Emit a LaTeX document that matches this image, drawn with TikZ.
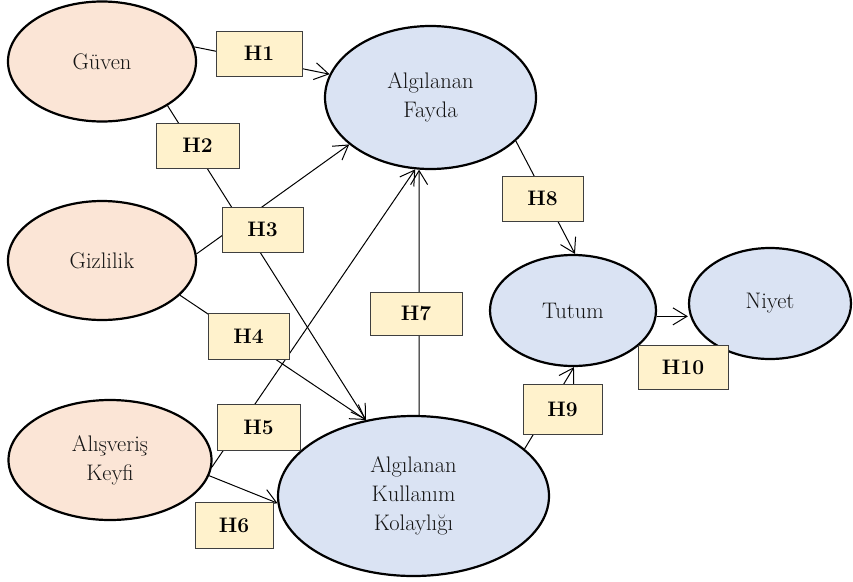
\documentclass[tikz,border=0pt]{standalone}
\usetikzlibrary{arrows.meta,shapes.geometric}
\definecolor{peach}{HTML}{FBE5D6}
\definecolor{lblue}{HTML}{DAE3F3}
\definecolor{boxy}{HTML}{FFF2CC}
\definecolor{boxline}{HTML}{3F3F3F}
\begin{document}
\begin{tikzpicture}[x=1pt,y=-1pt,
  ell/.style={ellipse, draw=black, line width=2.2pt, inner sep=0pt, align=center,
    font=\fontsize{22.5}{29}\selectfont, text=black!92},
  src/.style={ell, fill=peach},
  tgt/.style={ell, fill=lblue},
  hyp/.style={draw=boxline, line width=1pt, fill=boxy, inner sep=0pt,
    font=\fontsize{21}{24}\selectfont\bfseries},
  link/.style={line width=1pt, -{Straight Barb[length=14pt,width=17pt,line width=1pt]}}]
\useasboundingbox (0,0) rectangle (853,581);
% constructs
\node[src, minimum width=188, minimum height=120] (guven) at (102,61.5) {Güven};
\node[src, minimum width=188, minimum height=119] (gizlilik) at (102,260.5) {Gizlilik};
\node[src, minimum width=203, minimum height=120] (keyfi) at (110,460) {Alışveriş\\Keyfi};
\node[tgt, minimum width=211, minimum height=143] (fayda) at (430.5,97.5) {Algılanan\\Fayda};
\node[tgt, minimum width=271, minimum height=160] (akk) at (413.5,496) {Algılanan\\Kullanım\\Kolaylığı};
\node[tgt, minimum width=166, minimum height=111] (tutum) at (573,310.5) {Tutum};
\node[tgt, minimum width=162, minimum height=111] (niyet) at (770,303.5) {Niyet};
% paths
\draw[link] (guven.9) -- (fayda.167);
\draw[link] (guven.-34) -- (akk.122);
\draw[link] (gizlilik.4) -- (fayda.210);
\draw[link] (gizlilik.-24) -- (akk.122);
\draw[link] (keyfi.-4) -- (fayda.-102);
\draw[link] (keyfi.-9) -- (akk.183);
\draw[link] (akk.86) -- (fayda.-99);
\draw[link] (fayda.-27) -- (tutum.88);
\draw[link] (akk.23) -- (tutum.-89);
\draw[link] (tutum.-4) -- (tutum.-4 -| niyet.west);
% hypothesis labels
\node[hyp, minimum width=86, minimum height=45] (h1) at (259,53.5) {H1};
\node[hyp, minimum width=83, minimum height=45] (h2) at (197.5,145.5) {H2};
\node[hyp, minimum width=81, minimum height=45] (h3) at (262.5,229.5) {H3};
\node[hyp, minimum width=81, minimum height=46] (h4) at (248.5,336) {H4};
\node[hyp, minimum width=83, minimum height=46] (h5) at (258.5,427) {H5};
\node[hyp, minimum width=78, minimum height=46] (h6) at (234,525) {H6};
\node[hyp, minimum width=92, minimum height=43] (h7) at (416,313.5) {H7};
\node[hyp, minimum width=81, minimum height=45] (h8) at (542.5,198.5) {H8};
\node[hyp, minimum width=79, minimum height=50] (h9) at (562.5,409) {H9};
\node[hyp, minimum width=90, minimum height=44] (h10) at (683,367) {H10};
\end{tikzpicture}
\end{document}
